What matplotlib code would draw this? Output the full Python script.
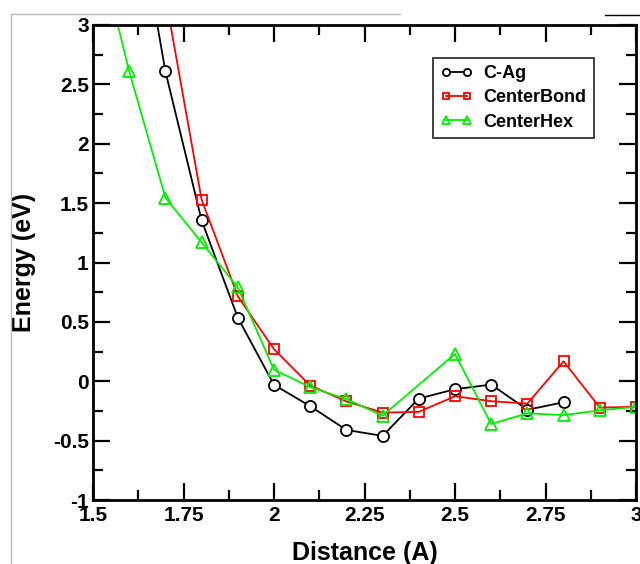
import matplotlib
matplotlib.use("Agg")
import matplotlib.pyplot as plt
from matplotlib.ticker import MultipleLocator
from matplotlib.lines import Line2D

plt.rcParams['font.family'] = ['Liberation Sans', 'DejaVu Sans']
plt.rcParams['font.weight'] = 'bold'

# Data
cag_x = [1.6, 1.7, 1.8, 1.9, 2.0, 2.1, 2.2, 2.3, 2.4, 2.5, 2.6, 2.7, 2.8]
cag_y = [4.36, 2.61, 1.355, 0.536, -0.03, -0.21, -0.41, -0.46, -0.146, -0.067, -0.028, -0.24, -0.177]

bond_x = [1.7, 1.8, 1.9, 2.0, 2.1, 2.2, 2.3, 2.4, 2.5, 2.6, 2.7, 2.8, 2.9, 3.0]
bond_y = [3.24, 1.53, 0.716, 0.27, -0.036, -0.17, -0.264, -0.258, -0.126, -0.168, -0.188, 0.168, -0.222, -0.215]

hex_x = [1.5, 1.6, 1.7, 1.8, 1.9, 2.0, 2.1, 2.2, 2.3, 2.5, 2.6, 2.7, 2.8, 2.9, 3.0]
hex_y = [3.85, 2.61, 1.546, 1.17, 0.79, 0.098, -0.05, -0.15, -0.29, 0.23, -0.36, -0.27, -0.285, -0.245, -0.215]

x_ticks = [1.5, 1.75, 2.0, 2.25, 2.5, 2.75, 3.0]
x_ticklabels = ["1.5", "1.75", "2", "2.25", "2.5", "2.75", "3"]
y_ticks = [-1, -0.5, 0, 0.5, 1, 1.5, 2, 2.5, 3]
y_ticklabels = ["-1", "-0.5", "0", "0.5", "1", "1.5", "2", "2.5", "3"]

fig = plt.figure(figsize=(6.4, 5.64), dpi=100)
ax = fig.add_axes([93/640, 1 - 500/564, (636 - 93)/640, (500 - 25)/564])

ax.plot(cag_x, cag_y, color='black', lw=1.3, marker='o', ms=8, mfc='white', mec='black', mew=1.3,
        label='C-Ag')
ax.plot(bond_x, bond_y, color='#ff0000', lw=1.3, marker='s', ms=7.5, mfc='none', mec='#ff0000', mew=1.3,
        label='CenterBond')
ax.plot(hex_x, hex_y, color='#00ee00', lw=1.3, marker='^', ms=8, mfc='none', mec='#00ee00', mew=1.3,
        label='CenterHex')

ax.set_xlim(1.5, 3.0)
ax.set_ylim(-1, 3)
ax.set_xticks(x_ticks)
ax.set_xticklabels(x_ticklabels)
ax.set_yticks(y_ticks)
ax.set_yticklabels(y_ticklabels)
ax.xaxis.set_minor_locator(MultipleLocator(0.125))
ax.yaxis.set_minor_locator(MultipleLocator(0.25))
ax.tick_params(which='both', direction='in', top=True, right=True, width=1.6, colors='black')
ax.tick_params(which='major', length=12, labelsize=15)
ax.tick_params(axis='y', which='major', pad=3)
ax.tick_params(axis='x', which='major', pad=4)
ax.tick_params(which='minor', length=7)
for lab in ax.get_xticklabels() + ax.get_yticklabels():
    lab.set_fontweight('bold')
for s in ax.spines.values():
    s.set_linewidth(2)

ax.set_xlabel('Distance (A)', fontsize=18, fontweight='bold', labelpad=12)
ax.set_ylabel('Energy (eV)', fontsize=18, fontweight='bold', labelpad=12)

leg = ax.legend(loc='upper left', bbox_to_anchor=((433 - 93)/543, 1 - (58 - 25)/475),
                numpoints=2, frameon=True, fancybox=False, edgecolor='black',
                prop={'weight': 'bold', 'size': 13}, handlelength=1.8, borderpad=0.4,
                labelspacing=0.4, handletextpad=0.6, borderaxespad=0, markerscale=0.65)
leg.get_frame().set_linewidth(1.3)

# artifacts of the original screenshot
fig.add_artist(Line2D([11/640, 400/640], [1 - 14/564, 1 - 14/564], color='#bbbbbb', lw=1))
fig.add_artist(Line2D([605/640, 1], [1 - 15/564, 1 - 15/564], color='black', lw=1))
fig.add_artist(Line2D([11/640, 11/640], [0, 1 - 14/564], color='#bbbbbb', lw=1))

fig.savefig('out.png', dpi=100)
